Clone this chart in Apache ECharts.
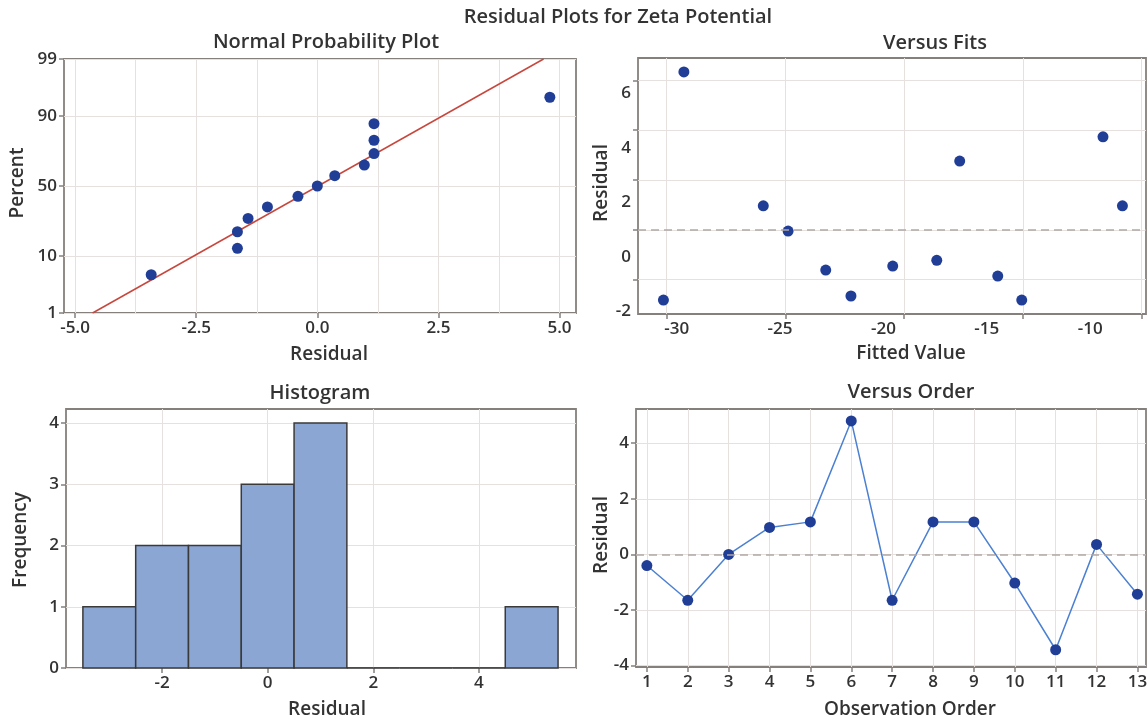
<!DOCTYPE html>
<html>
<head>
<meta charset="utf-8">
<title>Residual Plots for Zeta Potential</title>
<script src="https://cdn.jsdelivr.net/npm/echarts@6/dist/echarts.min.js"></script>
<style>
  html, body { margin: 0; padding: 0; background: #ffffff; }
  #chart { width: 1148px; height: 724px; }
</style>
</head>
<body>
<div id="chart"></div>
<script>
// ---- data -----------------------------------------------------------------
// Residuals listed in observation order
const observationOrder = [1, 2, 3, 4, 5, 6, 7, 8, 9, 10, 11, 12, 13];
const residuals = [-0.40, -1.65, 0.00, 0.97, 1.17, 4.80, -1.65, 1.17, 1.17, -1.03, -3.43, 0.36, -1.43];

// Normal probability plot: percent plotted against each sorted residual
const probPercents = [5.2, 12.7, 20.1, 27.6, 35.1, 42.5, 50.0, 57.5, 64.9, 72.4, 79.9, 87.3, 94.8];
const percentTicks = [1, 10, 50, 90, 99];
const fitLineResidual = [-4.64, 4.67];
const fitLinePercent = [1, 99];
const residualTicks = [-5, -2.5, 0, 2.5, 5];
const residualMinorGrid = [-3.75, -1.25, 1.25, 3.75];

// Versus fits
const fittedValues = [-29.65, -30.64, -25.81, -24.61, -22.79, -21.57, -19.55, -17.42, -16.31, -14.47, -13.31, -9.38, -8.44];
const fitResiduals = [6.79, -1.58, 1.88, 0.95, -0.48, -1.43, -0.33, -0.12, 3.52, -0.70, -1.58, 4.41, 1.88];
const fittedTicks = [-30, -25, -20, -15, -10];
const fitResidualTicks = [-2, 0, 2, 4, 6];

// Histogram of residuals (bin width 1)
const binCenters = [-3, -2, -1, 0, 1, 2, 3, 4, 5];
const binCounts = [1, 2, 2, 3, 4, 0, 0, 0, 1];
const binWidth = 1;
const histResidualTicks = [-2, 0, 2, 4];
const frequencyTicks = [0, 1, 2, 3, 4];

// Versus order
const orderResidualTicks = [-4, -2, 0, 2, 4];

// ---- helpers --------------------------------------------------------------
// Inverse standard normal CDF (Acklam) for the probability axis
function probit(p) {
  const a = [-3.969683028665376e+01, 2.209460984245205e+02, -2.759285104469687e+02, 1.383577518672690e+02, -3.066479806614716e+01, 2.506628277459239e+00];
  const b = [-5.447609879822406e+01, 1.615858368580409e+02, -1.556989798598866e+02, 6.680131188771972e+01, -1.328068155288572e+01];
  const c = [-7.784894002430293e-03, -3.223964580411365e-01, -2.400758277161838e+00, -2.549671010229057e+00, 4.374664141464968e+00, 2.938163982698783e+00];
  const d = [7.784695709041462e-03, 3.224671290700398e-01, 2.445134137142996e+00, 3.754408661907416e+00];
  const pl = 0.02425, ph = 1 - pl;
  let q, r;
  if (p < pl) {
    q = Math.sqrt(-2 * Math.log(p));
    return (((((c[0] * q + c[1]) * q + c[2]) * q + c[3]) * q + c[4]) * q + c[5]) /
           ((((d[0] * q + d[1]) * q + d[2]) * q + d[3]) * q + 1);
  }
  if (p > ph) {
    q = Math.sqrt(-2 * Math.log(1 - p));
    return -(((((c[0] * q + c[1]) * q + c[2]) * q + c[3]) * q + c[4]) * q + c[5]) /
            ((((d[0] * q + d[1]) * q + d[2]) * q + d[3]) * q + 1);
  }
  q = p - 0.5; r = q * q;
  return (((((a[0] * r + a[1]) * r + a[2]) * r + a[3]) * r + a[4]) * r + a[5]) * q /
         (((((b[0] * r + b[1]) * r + b[2]) * r + b[3]) * r + b[4]) * r + 1);
}
const zOf = pct => probit(pct / 100);
const zLow = zOf(percentTicks[0]);
const zHigh = zOf(percentTicks[percentTicks.length - 1]);

const TEXT = '#333333';
const FONT = '"Open Sans", "Noto Sans", sans-serif';
const FRAME = '#85807c';
const GRID_LINE = '#e6e0df';
const DOT = '#213e97';
const REF = '#b0a8a6';

function valueAxis(gridIndex, min, max, o) {
  const axis = {
    type: 'value', gridIndex: gridIndex, min: min, max: max,
    axisLine: { show: false, onZero: false },
    axisTick: { show: !!o.ticks, length: 5, lineStyle: { color: FRAME, width: 1.5 } },
    axisLabel: { show: !!o.labels, color: TEXT, fontFamily: FONT, fontSize: 17, fontWeight: 600, margin: 7 },
    splitLine: { show: !!o.split, lineStyle: { color: GRID_LINE, width: 1 } }
  };
  if (o.values) {
    axis.axisTick.customValues = o.values;
    axis.axisLabel.customValues = o.values;
  }
  if (o.fmt) axis.axisLabel.formatter = o.fmt;
  if (o.position) axis.position = o.position;
  return axis;
}

function gridBox(left, top, width, height) {
  return {
    left: left, top: top, width: width, height: height,
    show: true, backgroundColor: '#ffffff', borderColor: FRAME, borderWidth: 1.8,
    containLabel: false, outerBoundsMode: 'none'
  };
}

function label(text, x, y, size, rotate) {
  return {
    type: 'text', x: x, y: y, rotation: rotate ? Math.PI / 2 : 0, z: 100,
    style: { text: text, fill: TEXT, font: '600 ' + size + 'px ' + FONT, align: 'center', verticalAlign: 'middle' }
  };
}

const sortedResiduals = residuals.slice().sort((p, q) => p - q);
const dashedRef = {
  silent: true, symbol: ['none', 'none'], label: { show: false },
  lineStyle: { color: REF, type: [8, 5], width: 1.5 },
  data: [{ yAxis: 0 }]
};
const dotStyle = { color: DOT, opacity: 1 };

const option = {
  animation: false,
  backgroundColor: '#ffffff',
  grid: [
    gridBox(64, 59, 512, 254),   // normal probability plot
    gridBox(638, 58, 508, 256),  // versus fits
    gridBox(66, 409, 510, 259),  // histogram
    gridBox(636, 409, 510, 258)  // versus order
  ],
  xAxis: [
    valueAxis(0, -5.23, 5.34, { values: residualTicks, ticks: true, labels: true, split: true, fmt: v => v.toFixed(1) }),
    valueAxis(0, -5.23, 5.34, { values: residualMinorGrid, split: true, position: 'bottom' }),
    valueAxis(1, -31.21, -9.82, { values: fittedTicks, ticks: true, split: true, position: 'bottom' }),
    valueAxis(1, -31.87, -7.30, { values: fittedTicks, labels: true, position: 'bottom' }),
    valueAxis(2, -3.82, 5.84, { values: histResidualTicks, ticks: true, labels: true, split: true }),
    valueAxis(3, 0.734, 13.21, { values: observationOrder, ticks: true, labels: true, split: true })
  ],
  yAxis: [
    valueAxis(0, zLow, zHigh, {
      values: percentTicks.map(zOf), ticks: true, labels: true, split: true,
      fmt: v => {
        const hit = percentTicks.find(p => Math.abs(zOf(p) - v) < 1e-6);
        return hit === undefined ? '' : String(hit);
      }
    }),
    valueAxis(1, -3.38, 6.90, { values: fitResidualTicks, ticks: true, split: true, position: 'left' }),
    valueAxis(1, -2.09, 7.30, { values: fitResidualTicks, labels: true, position: 'left' }),
    valueAxis(2, 0, 4.23, { values: frequencyTicks, ticks: true, labels: true, split: true }),
    valueAxis(3, -4.05, 5.23, { values: orderResidualTicks, ticks: true, labels: true, split: true })
  ],
  series: [
    {
      type: 'line', xAxisIndex: 0, yAxisIndex: 0, silent: true,
      data: fitLineResidual.map((r, i) => [r, zOf(fitLinePercent[i])]),
      symbol: 'none', lineStyle: { color: '#c8473d', width: 1.5 }, z: 2
    },
    {
      type: 'scatter', xAxisIndex: 0, yAxisIndex: 0,
      data: sortedResiduals.map((r, i) => [r, zOf(probPercents[i])]),
      symbol: 'circle', symbolSize: 11, itemStyle: dotStyle, z: 3
    },
    {
      type: 'line', xAxisIndex: 2, yAxisIndex: 1, data: [], symbol: 'none',
      markLine: dashedRef
    },
    {
      type: 'scatter', xAxisIndex: 3, yAxisIndex: 2,
      data: fittedValues.map((f, i) => [f, fitResiduals[i]]),
      symbol: 'circle', symbolSize: 11, itemStyle: dotStyle, z: 3
    },
    {
      type: 'custom', xAxisIndex: 4, yAxisIndex: 3,
      data: binCenters.map((c, i) => [c, binCounts[i]]),
      renderItem: function (params, api) {
        const center = api.value(0), count = api.value(1);
        const p0 = api.coord([center - binWidth / 2, count]);
        const p1 = api.coord([center + binWidth / 2, 0]);
        return {
          type: 'rect',
          shape: { x: p0[0], y: p0[1], width: p1[0] - p0[0], height: p1[1] - p0[1] },
          style: { fill: '#8ca6d4', stroke: '#3a3a3a', lineWidth: 1.5 }
        };
      }
    },
    {
      type: 'line', xAxisIndex: 5, yAxisIndex: 4,
      data: observationOrder.map((o, i) => [o, residuals[i]]),
      symbol: 'circle', symbolSize: 11,
      itemStyle: dotStyle, lineStyle: { color: '#4b80d2', width: 1.5 },
      markLine: dashedRef, z: 3
    }
  ],
  graphic: [
    label('Residual Plots for Zeta Potential', 618, 17, 20),
    label('Normal Probability Plot', 326, 42, 20),
    label('Versus Fits', 935, 43, 20),
    label('Histogram', 320, 393, 20),
    label('Versus Order', 911, 392, 20),
    label('Residual', 329, 355, 19),
    label('Fitted Value', 911, 354, 19),
    label('Residual', 327, 710, 19),
    label('Observation Order', 910, 710, 19),
    label('Percent', 18, 183, 19, true),
    label('Residual', 602, 183, 19, true),
    label('Frequency', 21, 540, 19, true),
    label('Residual', 602, 535, 19, true)
  ]
};

const chart = echarts.init(document.getElementById('chart'));
chart.setOption(option);
</script>
</body>
</html>
